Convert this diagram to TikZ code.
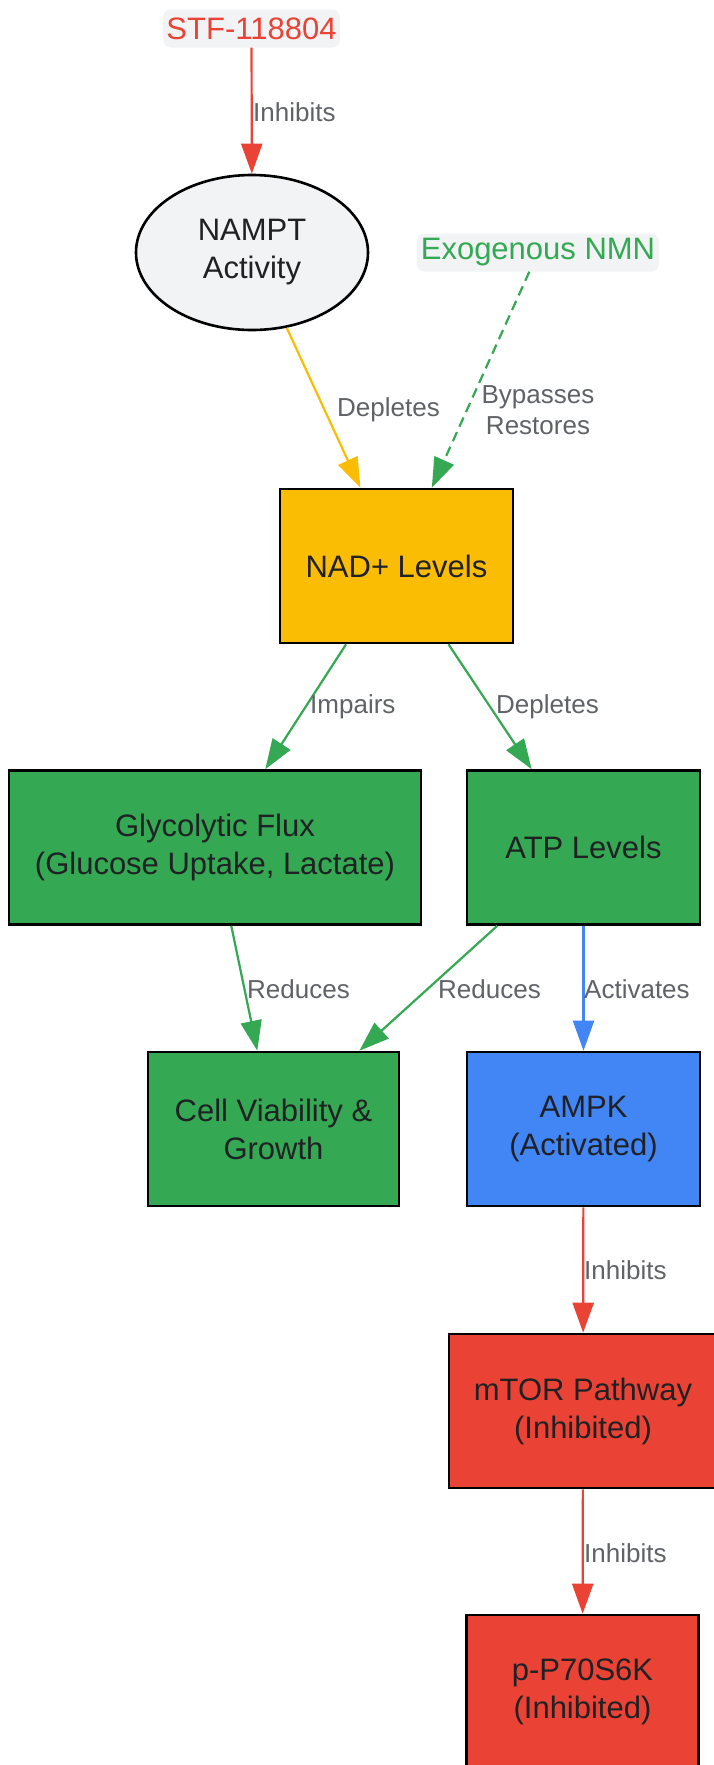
\documentclass[tikz,border=0pt]{standalone}
\usepackage{fontspec}
\setmainfont{Liberation Sans}
\usepackage{tikz}
\usetikzlibrary{shapes.geometric, arrows.meta}

\definecolor{tagfill}{HTML}{F1F3F4}
\definecolor{gred}{HTML}{EA4335}
\definecolor{ggreen}{HTML}{34A853}
\definecolor{gblue}{HTML}{4285F4}
\definecolor{gyellow}{HTML}{FBBC04}
\definecolor{txtdark}{HTML}{202124}
\definecolor{txtgray}{HTML}{5F6368}

\begin{document}
\begin{tikzpicture}[x=1pt, y=-1pt,
    >={Triangle[length=30pt, width=21pt]},
    box/.style={rectangle, draw=black, line width=2.6pt, text=txtdark, align=center,
        inner sep=0pt, minimum height=154pt, font=\fontsize{31}{38}\selectfont},
    tag/.style={rectangle, rounded corners=8pt, fill=tagfill, inner sep=0pt,
        minimum height=38pt, font=\fontsize{31}{38}\selectfont},
    lbl/.style={text=txtgray, inner sep=0pt, anchor=west, align=left,
        font=\fontsize{26}{31}\selectfont},
    link/.style={->, line width=2.2pt}]
            \fill[white] (0, 0) rectangle (714, 1765);
            \useasboundingbox (0, 0) rectangle (714, 1765);

            % inputs
            \node[tag, text=gred, minimum width=177pt] at (251.5, 28.5) (stf) {STF-118804};
            \node[tag, text=ggreen, minimum width=242pt] at (538, 252.5) (nmn) {Exogenous NMN};
            \node[ellipse, draw=black, line width=2.6pt, fill=tagfill, text=txtdark, align=center,
                inner sep=0pt, minimum width=232pt, minimum height=155pt,
                font=\fontsize{31}{38}\selectfont] at (252, 252.5) (nampt) {NAMPT\\Activity};

            % boxes
            \node[box, fill=gyellow, minimum width=233pt] at (396.5, 566) (nad) {NAD+ Levels};
            \node[box, fill=ggreen, minimum width=412pt] at (215, 847.5) (glyco) {Glycolytic Flux\\(Glucose Uptake, Lactate)};
            \node[box, fill=ggreen, minimum width=233pt] at (583.5, 847.5) (atp) {ATP Levels};
            \node[box, fill=ggreen, minimum width=251pt] at (273.5, 1129) (cell) {Cell Viability \&\\Growth};
            \node[box, fill=gblue, minimum width=233pt] at (583.5, 1129) (ampk) {AMPK\\(Activated)};
            \node[box, fill=gred, minimum width=268pt] at (583, 1411) (mtor) {mTOR Pathway\\(Inhibited)};
            \node[box, fill=gred, minimum width=232pt] at (582.5, 1692) (p70) {p-P70S6K\\(Inhibited)};

            % links
            \draw[link, gred] (stf) -- (nampt);
            \draw[link, gyellow] (nampt) -- (nad);
            \draw[link, ggreen, dash pattern=on 10pt off 6pt] (nmn) -- (nad);
            \draw[link, ggreen] (nad) -- (glyco);
            \draw[link, ggreen] (nad) -- (atp);
            \draw[link, ggreen] (glyco) -- (cell);
            \draw[link, ggreen] (atp) -- (cell);
            \draw[link, gblue] (atp) -- (ampk);
            \draw[link, gred] (ampk) -- (mtor);
            \draw[link, gred] (mtor) -- (p70);

            % labels
            \node[lbl] at (253, 112) (inhA) {Inhibits};
            \node[lbl] at (337, 410) (deplA) {Depletes};
            \node[lbl, anchor=center, align=center] at (538, 410) (byp) {Bypasses\\Restores};
            \node[lbl] at (310, 707) (imp) {Impairs};
            \node[lbl] at (496, 707) (deplB) {Depletes};
            \node[lbl] at (247, 989) (redA) {Reduces};
            \node[lbl] at (438, 989) (redB) {Reduces};
            \node[lbl] at (584, 989) (act) {Activates};
            \node[lbl] at (584, 1270) (inhB) {Inhibits};
            \node[lbl] at (584, 1553) (inhC) {Inhibits};
        \end{tikzpicture}
\end{document}
